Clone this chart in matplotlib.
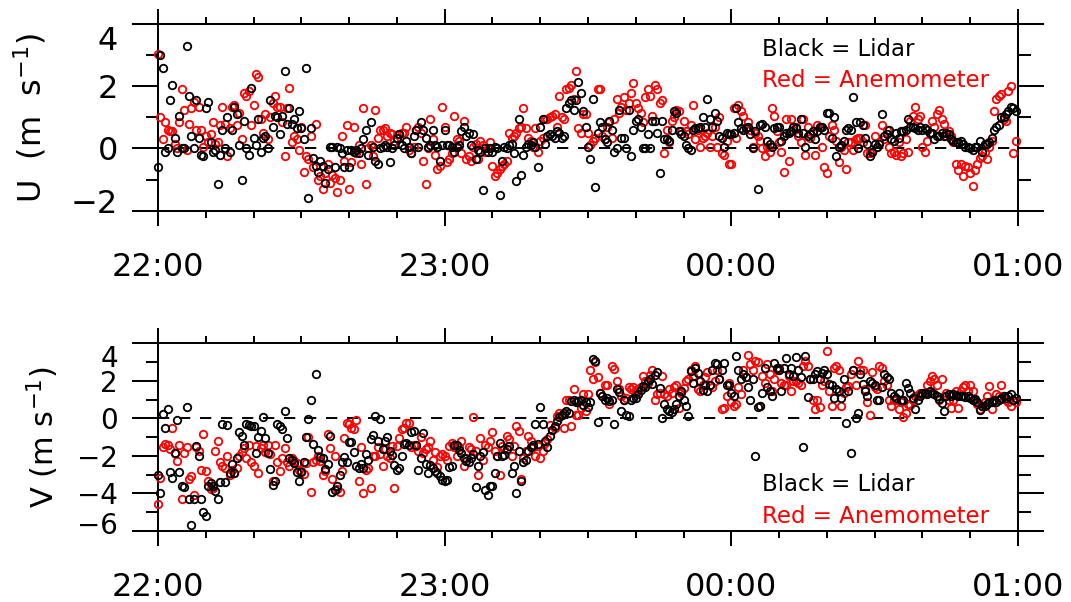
import numpy as np
import matplotlib
matplotlib.use("Agg")
import matplotlib.pyplot as plt
from matplotlib.ticker import MultipleLocator
from matplotlib.transforms import ScaledTranslation

plt.rcParams['font.family'] = ['DejaVu Sans']

# samples every 30 s, in minutes after 22:00
t_min = np.arange(360) * 0.5

# U component (m/s), one row = 10 minutes
u_lidar = [
    -0.6, 3.0, 2.6, -0.1, 0.0, 1.55, 2.05, 0.35, -0.1, 1.05, 0.0, 0.0, 3.3, 1.7, 0.4, 0.0, 1.55, 0.35, -0.2, -0.25,
    1.3, 1.5, 0.2, -0.1, -0.05, -1.15, -0.2, 0.6, 0.0, 1.0, -0.1, 0.6, 1.35, 1.1, 0.1, -1.0, 0.9, 0.0, -0.2, 1.95,
    0.35, 0.1, 0.95, -0.1, 0.35, 0.4, 0.0, 1.55, 0.7, 1.05, 1.0, 0.45, 1.05, 2.5, 0.8, 1.3, 0.8, 0.95, 0.65, 1.2,
    0.65, 0.3, 2.6, -1.6, 0.65, -0.3, -0.55, -0.75, -0.4, -0.55, -1.1, -0.65, 0.05, 0.05, -0.6, 0.05, 0.0, -0.15, -0.6, -0.05,
    -0.6, -0.05, -0.1, -0.05, -0.15, 0.0, 0.3, 0.6, -0.2, 0.85, 0.05, -0.4, -0.5, 0.0, 0.05, 0.1, 0.05, -0.45, 0.0, 0.1,
    0.35, 0.45, 0.1, 0.0, 0.25, 0.05, -0.15, 0.4, 0.6, 0.05, 0.85, 0.6, 0.35, 0.05, 0.1, 0.6, 0.1, 0.05, -0.4, 0.1,
    0.6, 0.1, 0.1, 0.05, -0.1, 0.05, 0.1, 0.55, 0.7, 0.4, 0.5, 0.1, 0.45, -0.35, -0.05, -0.1, -1.35, 0.0, -0.1, 0.0,
    -0.1, 0.05, 0.0, -1.5, -0.4, 0.05, 0.0, 0.1, 0.15, -0.15, -1.05, 0.95, -0.85, -0.2, 0.05, 0.15, 0.1, 0.2, 0.05, -0.6,
    0.7, 0.95, 0.15, 0.4, 0.45, 0.4, 0.35, 0.55, 0.5, 0.35, 0.4, 1.3, 1.45, 1.55, 1.25, 1.55, 2.15, 1.8, 1.2, 0.7,
    0.05, -0.35, 1.6, -1.25, 0.5, 0.85, 0.7, 0.3, 0.2, 0.9, 0.6, -0.1, 0.0, 1.25, 0.35, 0.35, 0.0, 1.25, -0.25, 0.6,
    0.9, 0.95, 0.7, 0.0, 0.0, 0.45, 0.0, 0.9, 0.9, 0.5, -0.8, 0.9, 0.3, 0.3, 0.25, 0.6, 1.2, 1.15, 0.55, 0.45,
    0.4, 0.1, 0.0, -0.05, 0.6, 0.65, 0.65, 0.7, 1.0, 0.7, 1.6, 0.95, 0.7, 1.15, 0.9, 0.4, 0.35, 0.05, 0.5, 0.45,
    0.45, 0.5, 1.3, 0.85, 0.65, 0.6, 0.65, 0.7, 0.45, 0.0, 0.55, -1.3, 0.75, 0.8, 0.7, 0.25, 0.15, 0.05, 0.65, 0.7,
    0.7, 0.25, 0.4, 0.5, 0.5, 0.55, 0.7, 0.65, 0.5, 0.95, 0.5, 0.05, 0.4, 0.45, 0.55, 0.3, 0.55, 0.7, 0.7, 0.6,
    1.15, 1.15, 0.35, 1.0, -0.25, 0.05, 0.1, 0.25, 0.6, 0.65, 0.6, 1.65, 0.85, 0.0, 0.85, 0.75, 0.35, 0.15, -0.25, -0.1,
    0.15, 0.05, 0.15, 1.1, 0.4, 0.45, 0.6, 0.3, 0.25, 0.5, 0.35, 0.55, 0.55, 0.6, 0.95, 0.7, 0.7, 0.65, 0.6, 0.7,
    0.6, 0.65, 0.6, 0.5, 0.5, 0.3, 0.4, 0.4, 0.5, 0.4, 0.5, 0.45, 0.3, 0.25, 0.2, 0.2, 0.25, 0.15, 0.05, 0.05,
    0.0, -0.05, 0.05, 0.05, 0.25, -0.1, 0.15, 0.15, 0.2, 0.35, 0.6, 0.7, 0.75, 1.0, 1.0, 1.1, 1.2, 1.35, 1.3, 1.2,
]
u_anem = [
    3.05, 1.0, 0.3, 0.85, 0.6, 0.55, 0.55, 0.15, 0.0, 0.85, 1.9, 1.25, -0.05, 0.8, 1.3, 1.5, 0.6, 1.35, 0.6, 0.05,
    0.4, 0.2, 0.45, 0.85, 0.15, 0.2, 0.75, 1.35, 0.8, -0.25, 0.65, 1.35, 1.4, 0.75, 1.15, 0.3, 1.8, 1.7, 1.85, 0.75,
    1.4, 2.4, 2.3, 0.95, 0.5, 1.1, 0.3, 1.0, 1.45, 1.7, 1.35, 1.35, 0.85, -0.25, 1.3, 1.95, 0.2, 0.4, 0.3, -0.05,
    0.7, -0.75, -0.25, -0.35, 0.4, -0.6, 0.8, -1.0, -0.9, -1.3, -0.8, -0.5, -1.1, -0.85, -0.95, -1.4, -1.0, 0.4, -0.4, 0.75,
    -1.3, -0.45, 0.7, -0.15, 0.1, -0.5, 1.3, -1.15, 0.0, 0.1, -0.25, 1.25, 0.35, 0.6, 0.6, 0.65, 0.4, 0.5, 0.45, 0.25,
    0.35, 0.45, 0.5, 0.5, 0.7, -0.05, -0.15, 0.05, 0.6, 0.7, 0.5, -0.4, -1.15, 0.0, 0.95, 0.3, -0.2, -0.65, -0.55, 1.35,
    0.7, -0.45, -0.35, -0.15, 1.05, 0.3, 0.25, -0.15, 0.9, -0.35, -0.25, -0.4, 0.05, 0.15, -0.35, 0.25, 0.1, -0.1, 0.0, 0.2,
    -0.55, -0.9, -0.8, -0.65, -0.55, -0.5, -0.4, 0.5, 0.35, 0.4, 0.5, 0.65, 0.7, 1.3, 0.65, 0.35, 0.25, 0.05, 0.65, -0.1,
    0.25, 0.35, 0.95, 0.95, 1.0, 1.05, 1.1, 0.7, 1.7, 1.0, 0.95, 1.9, 1.95, 2.05, 1.6, 2.5, 0.65, 0.5, 1.1, 1.1,
    0.5, 0.1, 0.25, 0.35, 1.9, 1.9, 0.4, 0.3, 0.7, 0.85, 0.35, 0.95, 1.6, 1.15, 1.35, 1.65, 1.25, 1.45, 1.8, 2.1,
    1.45, 1.3, 1.15, 0.85, 1.65, 1.9, 1.7, 1.05, 2.05, 1.9, 1.45, 1.55, -0.15, 0.6, 0.2, 0.9, 1.0, 1.25, 1.2, 0.55,
    0.9, 0.55, 0.45, 0.75, 1.4, 0.3, 0.6, 0.05, 0.35, 0.4, 0.5, 0.05, 0.4, 0.7, 0.05, 1.0, -0.15, -0.2, 0.25, -0.5,
    -0.5, 1.3, 0.35, 1.4, 1.2, 1.05, 0.65, 0.85, 0.6, 0.05, 0.5, 0.4, 0.25, 0.0, -0.25, 0.05, -0.1, 1.3, 1.05, 0.55,
    0.2, -0.1, -0.75, 0.95, -0.4, 0.95, 0.6, 0.7, 0.4, 0.2, 0.95, -0.2, 0.7, 0.35, 0.5, -0.2, 0.75, 0.7, 0.05, -0.6,
    -0.8, 0.4, 0.75, 0.6, 0.25, -0.45, 0.05, -0.05, -0.65, 0.2, 0.2, -0.05, 0.3, 0.35, 0.35, 0.2, 0.75, -0.15, -0.15, -0.1,
    0.4, 0.05, 0.2, 0.75, 0.3, 0.6, 0.05, -0.15, -0.1, -0.2, 0.2, -0.25, -0.15, 0.3, -0.1, 0.9, 1.05, 1.35, 0.95, 1.05,
    0.05, -0.1, 0.25, 0.5, 0.9, 0.7, 1.1, 1.25, 0.95, 0.8, 0.4, 0.55, 0.4, 0.2, -0.5, -0.7, -0.5, -0.9, -0.55, -0.6,
    -0.8, -1.2, -0.7, -0.5, -0.3, -0.25, -0.1, -0.35, 0.05, 0.25, 1.2, 1.6, 1.7, 1.75, 0.95, 0.9, 1.85, 2.0, -0.15, 0.25,
]

# V component (m/s)
v_lidar = [
    -3.05, -4.0, 0.25, -0.5, 0.5, -2.85, -3.2, -1.85, -0.1, -2.85, -3.6, -3.65, 0.6, -4.3, -5.7, -4.3, -1.5, -2.0, -4.3, -5.0,
    -5.2, -3.6, -3.45, -3.6, -3.9, -4.3, -3.4, -0.3, -3.4, -0.35, -2.9, -2.45, -2.9, -2.1, -0.75, -0.95, -1.4, -0.3, -0.35, -0.4,
    -0.4, -1.85, -1.0, -0.7, 0.05, -1.05, -1.85, -2.7, -3.55, -3.35, -0.3, -0.4, -0.55, 0.4, -1.05, -2.1, -2.2, -2.4, -2.85, -3.35,
    -2.85, -2.35, -1.0, -0.05, 1.0, -1.35, 2.35, -1.7, -2.05, -2.1, -2.7, -2.45, -0.95, -3.95, -3.85, -3.6, -3.05, -2.35, -2.05, -2.35,
    -1.25, -1.25, -1.8, -2.55, -2.65, -2.45, -2.65, -1.9, -2.2, -1.1, -0.9, 0.1, -1.2, -0.05, -1.65, -1.2, -1.0, -1.75, -1.95, -2.5,
    -2.75, -2.65, -2.0, -1.35, -1.3, -1.45, -0.75, -0.7, -1.45, -2.75, -2.1, -0.8, -2.45, -2.9, -2.5, -2.65, -2.8, -2.9, -3.1, -3.3,
    -3.35, -3.3, -2.6, -2.55, -1.45, -1.45, -1.7, -1.85, -2.1, -2.3, -2.35, -2.1, -1.9, -3.65, -2.55, -2.0, -1.8, -3.85, -4.1, -3.6,
    -3.6, -2.9, -2.0, -1.3, -2.0, -1.95, -1.65, -1.5, -2.9, -2.55, -4.0, -1.75, -3.35, -2.35, -2.2, -1.75, -1.55, -1.45, -0.3, -1.35,
    0.6, -0.3, -1.2, -1.55, -0.95, -0.6, -0.4, -0.15, 0.05, 0.15, 0.3, 0.4, 0.3, 0.9, 0.95, 0.85, 0.9, 1.0, 0.7, 0.85,
    0.6, 0.85, 3.15, 3.05, -0.2, 1.35, 1.2, 0.95, 1.1, 0.9, 1.0, -0.3, 1.55, 1.4, 0.4, 1.0, 0.2, 0.1, 0.95, 1.1,
    1.1, 1.3, 1.5, 1.7, 1.65, 2.0, 2.1, 1.85, 2.3, 2.45, 1.6, 0.0, 0.75, 0.5, 0.4, 0.35, 0.5, 0.75, 1.2, 1.45,
    1.0, 0.65, 0.1, 2.5, 1.9, 2.7, 2.4, 2.0, 1.5, 1.75, 1.45, 1.8, 2.6, 2.95, 2.9, 2.1, 2.55, 2.95, 1.8, 1.75,
    1.35, 1.2, 3.3, 2.6, 2.1, 2.35, 2.2, 1.65, 1.0, 2.1, -2.0, 0.6, 0.65, 1.35, 2.7, 1.65, 1.45, 1.2, 2.95, 2.7,
    2.55, 1.45, 2.7, 3.2, 2.35, 2.7, 2.25, 3.25, 2.55, 2.2, -1.55, 3.35, 1.15, 2.1, 2.1, 2.35, 2.5, 2.1, 2.4, 2.6,
    2.35, 1.85, 1.8, 1.1, 1.55, 1.45, 1.1, 2.1, -0.25, 1.45, -1.85, 2.6, 0.0, 0.3, 2.35, 1.85, 1.45, 1.2, 2.0, 1.9,
    1.75, 1.0, 1.0, 1.65, 2.35, 2.2, 2.1, 1.35, 1.2, 1.1, 1.35, 1.0, 1.0, 1.9, 1.6, 1.35, 1.1, 0.5, 0.95, 1.2,
    1.35, 1.35, 1.3, 1.45, 1.35, 1.3, 1.2, 1.05, 0.8, 0.4, 1.2, 1.3, 1.2, 1.3, 1.25, 1.2, 1.2, 1.2, 1.15, 1.2,
    1.1, 1.0, 1.05, 0.85, 0.45, 0.65, 0.65, 0.75, 0.85, 0.85, 0.95, 0.85, 1.0, 1.1, 1.2, 1.1, 1.2, 1.3, 1.0, 1.1,
]
v_anem = [
    -4.55, -3.2, -1.55, -1.35, -1.45, -1.65, -0.5, -1.85, -2.3, -1.4, -4.3, -1.85, -1.55, -3.25, -3.1, -4.1, -1.55, -1.75, -2.75, -0.85,
    -2.8, -3.35, -3.75, -3.7, -1.75, -1.2, -2.35, -2.55, -2.65, -2.0, -3.0, -2.75, -2.9, -2.65, -2.0, -1.8, -1.6, -2.1, -1.4, -2.35,
    -2.55, -1.5, -2.9, -1.6, -1.4, -1.8, -1.45, -1.9, -3.35, -1.45, -2.35, -2.8, -2.1, -1.6, -2.35, -2.55, -2.1, -2.3, -2.4, -2.75,
    -2.8, -2.95, -2.4, -1.0, -3.95, -2.35, -2.2, -2.0, -2.3, -3.0, -2.8, -0.85, -1.6, -3.25, -2.0, -3.8, -3.95, -2.8, -1.05, -0.25,
    -0.3, -0.5, -0.55, -0.1, -3.35, -1.55, -4.0, -2.75, -2.65, -3.7, -2.0, -2.0, -1.55, -1.9, -2.55, -1.65, -2.0, -2.1, -1.5, -3.7,
    -1.5, -1.05, -0.55, -0.5, -0.25, -0.25, -1.55, -1.45, -1.5, -1.75, -1.0, -1.85, -1.65, -1.55, -1.2, -2.25, -1.8, -2.6, -2.0, -1.9,
    -2.0, -2.2, -1.5, -1.3, -1.55, -2.0, -1.55, -1.2, -2.55, -2.1, -1.55, -1.65, 0.05, -1.75, -3.0, -1.05, -2.25, -1.4, -1.55, -1.2,
    -0.75, -1.75, -2.0, -3.0, -1.5, -1.65, -0.95, -1.1, -2.0, -1.5, -0.4, -0.7, -3.25, -2.1, -1.75, -0.95, -1.2, -1.55, -2.0, -1.5,
    -2.1, -1.75, -1.3, -1.1, -0.35, -0.6, -0.5, 0.1, 0.3, 0.2, -0.5, 1.0, 0.95, -0.4, 1.55, 0.2, 0.15, 0.55, 1.3, 0.4,
    1.3, 2.55, 2.1, 3.0, 2.2, 1.35, 1.2, 1.8, 1.8, 0.75, 2.8, 2.65, 2.0, 1.55, 1.2, 1.0, 1.1, 1.65, 1.55, 1.65,
    1.35, 1.55, 1.65, 2.25, 2.0, 1.9, 2.3, 2.55, 1.0, 1.3, 1.35, 2.25, 1.3, 1.2, 1.55, 1.35, 1.65, 1.8, 0.55, 1.35,
    1.6, 2.0, 2.1, 2.6, 2.25, 2.8, 1.55, 1.45, 1.75, 2.2, 2.45, 1.8, 1.65, 2.0, 2.6, 2.1, 0.5, 0.55, 1.2, 1.9,
    0.85, 0.65, 0.75, 1.65, 1.3, 2.6, 2.2, 3.4, 2.9, 2.55, 3.05, 3.0, 0.65, 2.25, 1.9, 2.9, 2.35, 1.45, 2.1, 2.6,
    2.7, 1.9, 1.8, 1.8, 2.25, 1.45, 2.0, 2.0, 1.9, 1.8, 2.8, 3.05, 2.8, 2.1, 1.0, 0.5, 0.95, 0.6, 1.8, 2.0,
    3.6, 1.45, 0.65, 2.7, 2.8, 2.55, 0.65, 1.35, 1.65, 1.7, 2.35, 2.6, 1.75, 3.05, 2.55, 2.6, 1.55, 0.85, 0.2, 2.45,
    1.65, 1.55, 2.8, 2.7, 2.0, 1.75, 1.0, 0.65, 0.95, 1.0, 0.5, 0.85, 0.05, 0.3, 0.75, 0.7, 0.95, 1.2, 1.25, 1.35,
    1.3, 1.35, 1.75, 2.0, 2.25, 2.1, 1.8, 1.0, 2.1, 1.2, 1.35, 1.0, 0.55, 1.0, 1.45, 0.55, 1.45, 1.65, 1.75, 1.45,
    1.75, 1.45, 1.0, 0.75, 0.5, 0.65, 0.85, 1.2, 1.7, 0.5, 0.95, 1.3, 1.2, 1.8, 1.2, 0.95, 0.85, 0.65, 1.0, 0.85,
]

hour_ticks = [0, 60, 120, 180]
hour_labels = ['22:00', '23:00', '00:00', '01:00']


def style_panel(ax, ylim, ystep, ylabel, label_x, ysize, lsize, shifts, fig):
    ax.set_xlim(0, 180)
    ax.set_ylim(*ylim)
    ax.axhline(0, color='black', lw=1.4, linestyle=(0, (5.8, 5)), zorder=1)

    ax.set_xticks(hour_ticks)
    ax.set_xticklabels(hour_labels)
    ax.xaxis.set_minor_locator(MultipleLocator(10))
    ax.set_yticks(np.arange(ylim[0], ylim[1] + 1, ystep))
    ax.yaxis.set_minor_locator(MultipleLocator(1))

    ax.tick_params(which='both', direction='out', width=1.45, top=True, right=True, colors='black')
    ax.tick_params(axis='x', which='major', length=10.8, pad=19, labelsize=23)
    ax.tick_params(axis='x', which='minor', length=5)
    ax.tick_params(axis='y', which='major', length=18.7, pad=10, labelsize=ysize)
    ax.tick_params(axis='y', which='minor', length=9)
    for s in ax.spines.values():
        s.set_linewidth(1.45)

    # end labels sit a bit inside the axis range
    labs = ax.get_yticklabels()
    labs[0].set_transform(labs[0].get_transform() + ScaledTranslation(0, shifts[0] / 72, fig.dpi_scale_trans))
    labs[-1].set_transform(labs[-1].get_transform() + ScaledTranslation(0, shifts[1] / 72, fig.dpi_scale_trans))

    ax.set_ylabel(ylabel, fontsize=lsize)
    ax.yaxis.set_label_coords(label_x, 0.5)


def add_points(ax, y_anem, y_lidar):
    ax.plot(t_min, y_anem, 'o', mfc='none', mec='red', ms=5.4, mew=1.3, clip_on=False, zorder=3)
    ax.plot(t_min, y_lidar, 'o', mfc='none', mec='black', ms=5.4, mew=1.3, clip_on=False, zorder=4)


fig = plt.figure(figsize=(10.71, 6.02), dpi=100)
ax_u = fig.add_axes([0.1475, 0.650, 0.803, 0.310])
ax_v = fig.add_axes([0.1475, 0.1184, 0.803, 0.3113])

add_points(ax_u, u_anem, u_lidar)
add_points(ax_v, v_anem, v_lidar)

style_panel(ax_u, (-2, 4), 2, 'U  (m  s$^{-1}$)', -0.127, 23, 23, (7, -10), fig)
style_panel(ax_v, (-6, 4), 2, 'V (m s$^{-1}$)', -0.113, 20, 22, (5.5, -9), fig)

ax_u.text(0.702, 0.866, 'Black = Lidar', transform=ax_u.transAxes, fontsize=16.5,
          va='center', ha='left', color='black')
ax_u.text(0.702, 0.695, 'Red = Anemometer', transform=ax_u.transAxes, fontsize=16.5,
          va='center', ha='left', color='red')
ax_v.text(0.702, 0.244, 'Black = Lidar', transform=ax_v.transAxes, fontsize=16.5,
          va='center', ha='left', color='black')
ax_v.text(0.702, 0.075, 'Red = Anemometer', transform=ax_v.transAxes, fontsize=16.5,
          va='center', ha='left', color='red')

fig.savefig('out.png', dpi=100)
